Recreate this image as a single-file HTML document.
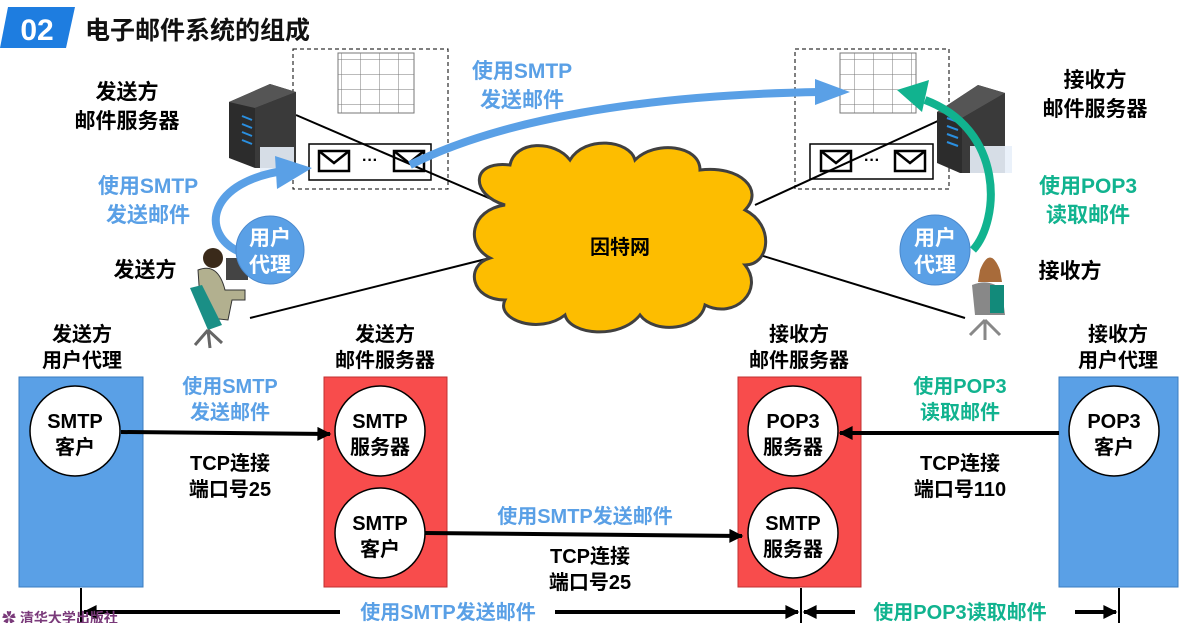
<!DOCTYPE html>
<html><head><meta charset="utf-8"><style>
body{margin:0;width:1183px;height:623px;overflow:hidden;background:#fff}
svg{display:block}
text{font-family:"Liberation Sans","Noto Sans CJK SC",sans-serif;font-weight:bold}
</style></head><body>
<svg width="1183" height="623" viewBox="0 0 1183 623" xmlns="http://www.w3.org/2000/svg">
<defs>
<marker id="abk" viewBox="0 0 10 10" markerWidth="18" markerHeight="14" refX="9" refY="5" orient="auto" markerUnits="userSpaceOnUse"><path d="M0,0 L10,5 L0,10 Z" fill="#000"/></marker>
<marker id="abk2" viewBox="0 0 10 10" markerWidth="18" markerHeight="14" refX="1" refY="5" orient="auto" markerUnits="userSpaceOnUse"><path d="M10,0 L0,5 L10,10 Z" fill="#000"/></marker>
<pattern id="grid" width="19" height="15" patternUnits="userSpaceOnUse"><path d="M19,0 V15 M0,15 H19" stroke="#777" stroke-width="1" fill="none"/></pattern>
</defs>
<!-- title -->
<polygon points="8,7 75,7 66,48 0,48" fill="#1e7de0"/>
<text x="37" y="40" font-size="30" fill="#fff" text-anchor="middle">02</text>
<text x="85" y="39" font-size="25" fill="#111">电子邮件系统的组成</text>

<!-- dashed boxes -->
<rect x="293" y="49" width="155" height="140" fill="none" stroke="#000" stroke-dasharray="4,3"/>
<rect x="338" y="53" width="76" height="60" fill="url(#grid)" stroke="#777"/>
<rect x="309" y="144" width="122" height="36" fill="#fff" stroke="#000" stroke-width="1.5"/>
<rect x="795" y="49" width="154" height="140" fill="none" stroke="#000" stroke-dasharray="4,3"/>
<rect x="840" y="53" width="76" height="60" fill="url(#grid)" stroke="#777"/>
<rect x="810" y="144" width="123" height="35" fill="#fff" stroke="#000" stroke-width="1.5"/>
<g fill="#fff" stroke="#000" stroke-width="2.5">
<rect x="319" y="151" width="30" height="20"/><path d="M319,151 L334,163 L349,151" fill="none"/>
<rect x="394" y="151" width="30" height="20"/><path d="M394,151 L409,163 L424,151" fill="none"/>
<rect x="821" y="151" width="30" height="20"/><path d="M821,151 L836,163 L851,151" fill="none"/>
<rect x="895" y="151" width="30" height="20"/><path d="M895,151 L910,163 L925,151" fill="none"/>
</g>
<text x="370" y="165" font-size="16" text-anchor="middle">···</text>
<text x="872" y="165" font-size="16" text-anchor="middle">···</text>

<!-- lines to cloud -->
<line x1="296" y1="115" x2="505" y2="205" stroke="#000" stroke-width="2"/>
<line x1="250" y1="318" x2="490" y2="258" stroke="#000" stroke-width="2"/>
<line x1="755" y1="205" x2="940" y2="120" stroke="#000" stroke-width="2"/>
<line x1="760" y1="255" x2="965" y2="318" stroke="#000" stroke-width="2"/>

<!-- servers -->
<g>
<polygon points="229,102 270,84 296,92 296,168 255,168 229,158" fill="#2c2c2c"/>
<polygon points="229,102 270,84 296,92 255,108" fill="#555"/>
<polygon points="255,108 296,92 296,168 255,168" fill="#3a3a3a"/>
<g stroke="#2a8fe0" stroke-width="2"><line x1="242" y1="116" x2="252" y2="120"/><line x1="242" y1="124" x2="252" y2="128"/><line x1="242" y1="132" x2="252" y2="136"/><line x1="242" y1="140" x2="252" y2="144"/></g>
<rect x="260" y="147" width="34" height="25" fill="#e8f0fa" opacity=".9"/>
</g>
<g>
<polygon points="937,112 978,85 1005,93 1005,173 960,173 937,163" fill="#2c2c2c"/>
<polygon points="937,112 978,85 1005,93 962,118" fill="#555"/>
<polygon points="962,118 1005,93 1005,173 962,173" fill="#3a3a3a"/>
<g stroke="#2a8fe0" stroke-width="2"><line x1="947" y1="118" x2="958" y2="122"/><line x1="947" y1="126" x2="958" y2="130"/><line x1="947" y1="134" x2="958" y2="138"/><line x1="947" y1="142" x2="958" y2="146"/></g>
<rect x="970" y="146" width="42" height="27" fill="#e8f0fa" opacity=".9"/>
</g>

<!-- cloud -->
<path d="M505,205 C470,195 470,160 510,165 C515,140 555,140 570,160 C585,135 630,140 635,160 C655,140 700,145 700,170 C740,165 765,190 745,210 C775,225 770,265 745,265 C765,290 735,320 705,305 C700,330 655,335 640,315 C620,340 570,335 565,315 C540,335 495,320 505,300 C470,300 465,265 490,258 C465,245 470,210 505,205 Z" fill="#fdbd00" stroke="#404040" stroke-width="3"/>
<text x="620" y="254" font-size="20" text-anchor="middle" fill="#000">因特网</text>

<!-- curved arrows -->
<path d="M240,252 C200,235 205,180 290,170" fill="none" stroke="#5aa0e6" stroke-width="8"/>
<polygon points="275,156 312,168 277,189" fill="#5aa0e6"/>
<path d="M410,165 C500,120 640,95 820,92" fill="none" stroke="#5aa0e6" stroke-width="8"/>
<polygon points="815,79 850,92 815,105" fill="#5aa0e6"/>
<path d="M973,250 C1000,220 1005,130 925,100" fill="none" stroke="#11b38f" stroke-width="8"/>
<polygon points="897,90 929,80 922,112" fill="#11b38f"/>

<!-- persons -->
<g>
<circle cx="213" cy="258" r="10" fill="#3a2a1a"/>
<rect x="226" y="258" width="22" height="22" fill="#444"/>
<path d="M198,270 Q218,262 225,290 L245,290 L245,300 L232,300 L228,320 L210,318 L200,300 Z" fill="#b2b08f" stroke="#333"/>
<path d="M190,288 L208,330 L222,325 L202,285 Z" fill="#1a8f86"/>
<path d="M208,330 L195,345 M208,330 L222,343 M208,330 L210,348" stroke="#666" stroke-width="3"/>
</g>
<g>
<path d="M980,270 Q990,245 1000,270 L1002,282 L978,282 Z" fill="#a86b3a"/>
<path d="M972,285 Q990,278 1002,290 L1005,315 L975,315 Z" fill="#888"/>
<rect x="990" y="285" width="14" height="28" fill="#128a7a"/>
<path d="M985,320 L970,335 M985,320 L1000,335 M985,320 L985,340" stroke="#888" stroke-width="3"/>
</g>

<!-- user agent bubbles -->
<circle cx="270" cy="250" r="34" fill="#5aa0e6" stroke="#4a88cc"/>
<text x="270" y="245" font-size="21" fill="#fff" text-anchor="middle">用户</text>
<text x="270" y="272" font-size="21" fill="#fff" text-anchor="middle">代理</text>
<circle cx="935" cy="250" r="35" fill="#5aa0e6" stroke="#4a88cc"/>
<text x="935" y="245" font-size="21" fill="#fff" text-anchor="middle">用户</text>
<text x="935" y="272" font-size="21" fill="#fff" text-anchor="middle">代理</text>

<!-- top labels -->
<g font-size="21" text-anchor="middle">
<text x="127" y="99">发送方</text><text x="127" y="128">邮件服务器</text>
<text x="145" y="277">发送方</text>
<text x="1095" y="87">接收方</text><text x="1095" y="116">邮件服务器</text>
<text x="1070" y="278">接收方</text>
<text x="148" y="193" fill="#5aa0e6">使用SMTP</text><text x="148" y="222" fill="#5aa0e6">发送邮件</text>
<text x="522" y="78" fill="#5aa0e6">使用SMTP</text><text x="522" y="107" fill="#5aa0e6">发送邮件</text>
<text x="1088" y="193" fill="#11b38f">使用POP3</text><text x="1088" y="222" fill="#11b38f">读取邮件</text>
</g>

<!-- bottom section -->
<rect x="19" y="377" width="124" height="210" fill="#5aa0e6" stroke="#3a7cc0"/>
<rect x="324" y="377" width="123" height="210" fill="#f84c4c" stroke="#c03030"/>
<rect x="738" y="377" width="123" height="210" fill="#f84c4c" stroke="#c03030"/>
<rect x="1059" y="377" width="119" height="210" fill="#5aa0e6" stroke="#3a7cc0"/>
<g fill="#fff" stroke="#000" stroke-width="1.5">
<ellipse cx="75" cy="431" rx="45" ry="45"/>
<ellipse cx="380" cy="431" rx="45" ry="45"/>
<ellipse cx="380" cy="533" rx="45" ry="45"/>
<ellipse cx="793" cy="431" rx="45" ry="45"/>
<ellipse cx="793" cy="533" rx="45" ry="45"/>
<ellipse cx="1114" cy="431" rx="45" ry="45"/>
</g>
<g font-size="20" text-anchor="middle">
<text x="75" y="428">SMTP</text><text x="75" y="454">客户</text>
<text x="380" y="428">SMTP</text><text x="380" y="454">服务器</text>
<text x="380" y="530">SMTP</text><text x="380" y="556">客户</text>
<text x="793" y="428">POP3</text><text x="793" y="454">服务器</text>
<text x="793" y="530">SMTP</text><text x="793" y="556">服务器</text>
<text x="1114" y="428">POP3</text><text x="1114" y="454">客户</text>
<text x="82" y="341">发送方</text><text x="82" y="367">用户代理</text>
<text x="385" y="341">发送方</text><text x="385" y="367">邮件服务器</text>
<text x="799" y="341">接收方</text><text x="799" y="367">邮件服务器</text>
<text x="1118" y="341">接收方</text><text x="1118" y="367">用户代理</text>
<text x="230" y="393" fill="#5aa0e6">使用SMTP</text><text x="230" y="419" fill="#5aa0e6">发送邮件</text>
<text x="230" y="470">TCP连接</text><text x="230" y="496">端口号25</text>
<text x="585" y="523" fill="#5aa0e6">使用SMTP发送邮件</text>
<text x="590" y="563">TCP连接</text><text x="590" y="589">端口号25</text>
<text x="960" y="393" fill="#11b38f">使用POP3</text><text x="960" y="419" fill="#11b38f">读取邮件</text>
<text x="960" y="470">TCP连接</text><text x="960" y="496">端口号110</text>
<text x="448" y="619" fill="#5aa0e6">使用SMTP发送邮件</text>
<text x="960" y="619" fill="#11b38f">使用POP3读取邮件</text>
</g>
<g stroke="#000" stroke-width="4">
<line x1="121" y1="432" x2="330" y2="434" marker-end="url(#abk)"/>
<line x1="425" y1="533" x2="742" y2="536" marker-end="url(#abk)"/>
<line x1="1059" y1="433" x2="840" y2="433" marker-end="url(#abk)"/>
</g>
<g stroke="#000" stroke-width="2">
<line x1="81" y1="588" x2="81" y2="623"/>
<line x1="801" y1="588" x2="801" y2="623"/>
<line x1="1119" y1="588" x2="1119" y2="623"/>
</g>
<g stroke="#000" stroke-width="4">
<line x1="84" y1="612" x2="340" y2="612" marker-start="url(#abk2)"/>
<line x1="555" y1="612" x2="798" y2="612" marker-end="url(#abk)"/>
<line x1="804" y1="612" x2="855" y2="612" marker-start="url(#abk2)"/>
<line x1="1075" y1="612" x2="1116" y2="612" marker-end="url(#abk)"/>
</g>
<text x="2" y="623" font-size="14" fill="#7a3a7a">✿ 清华大学出版社</text>
</svg>
</body></html>
